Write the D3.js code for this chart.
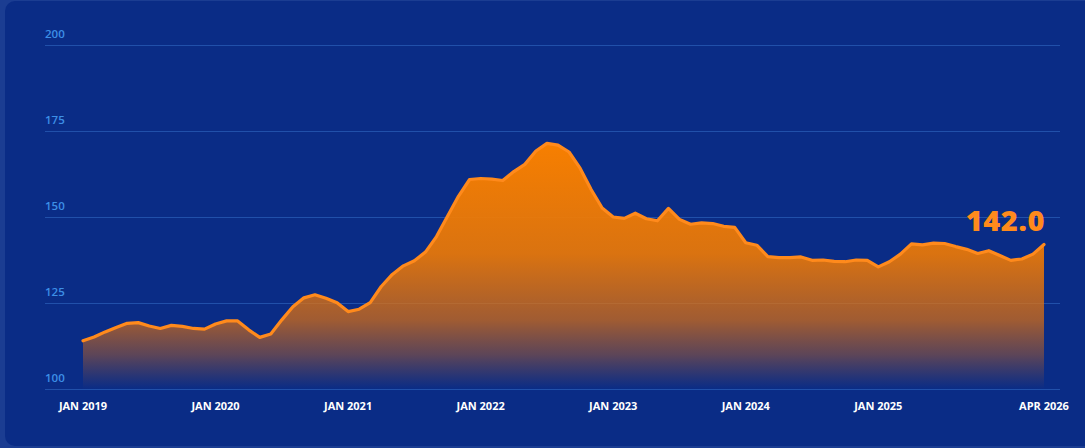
<!DOCTYPE html>
<html>
<head>
<meta charset="utf-8">
<script src="https://cdn.jsdelivr.net/npm/d3@7"></script>
<style>
  html, body { margin: 0; padding: 0; background: #1b3d92; overflow: hidden; }
  svg { display: block; }
</style>
</head>
<body>
<svg id="chart" width="1085" height="448"></svg>
<script>
// ---- Data ----
const startYear = 2019;
const months = d3.range(88).map(i => {
  const y = startYear + Math.floor(i / 12);
  const m = i % 12;
  return `${y}-${String(m + 1).padStart(2, "0")}`;
});
const values = [
  114.0, 115.1, 116.6, 117.9, 119.1, 119.3, 118.3, 117.6, 118.5, 118.2, 117.6, 117.4,
  118.9, 119.8, 119.8, 117.2, 115.0, 116.0, 120.1, 123.9, 126.5, 127.4, 126.4, 125.1,
  122.5, 123.2, 125.1, 129.8, 133.3, 135.8, 137.3, 139.8, 144.3, 150.2, 156.1, 160.9,
  161.2, 161.0, 160.6, 163.2, 165.3, 169.2, 171.4, 170.9, 168.9, 164.2, 158.0, 152.6,
  150.0, 149.6, 151.1, 149.5, 148.9, 152.5, 149.3, 147.9, 148.3, 148.1, 147.3, 147.0,
  142.5, 141.8, 138.5, 138.2, 138.2, 138.4, 137.4, 137.5, 137.1, 137.0, 137.5, 137.4,
  135.5, 137.0, 139.2, 142.2, 141.9, 142.4, 142.3, 141.4, 140.6, 139.4, 140.2, 138.8,
  137.4, 137.8, 139.2, 142.0
];
const xTickKeys = ["2019-01", "2020-01", "2021-01", "2022-01", "2023-01", "2024-01", "2025-01", "2026-04"];
const xTickLabels = ["JAN 2019", "JAN 2020", "JAN 2021", "JAN 2022", "JAN 2023", "JAN 2024", "JAN 2025", "APR 2026"];
const yTicks = [100, 125, 150, 175, 200];
const lastLabel = "142.0";

const data = months.map((k, i) => ({ key: k, value: values[i] }));

// ---- Layout ----
const svg = d3.select("#chart");

svg.append("rect")
  .attr("x", 5).attr("y", 1).attr("width", 1090).attr("height", 445)
  .attr("rx", 10).attr("fill", "#0a2c86");

const x = d3.scalePoint().domain(months).range([83, 1044]);
const y = d3.scaleLinear().domain([100, 200]).range([389, 45]);

const defs = svg.append("defs");
const grad = defs.append("linearGradient")
  .attr("id", "areaGrad")
  .attr("gradientUnits", "userSpaceOnUse")
  .attr("x1", 0).attr("x2", 0)
  .attr("y1", y(d3.max(values))).attr("y2", y(100));
grad.append("stop").attr("offset", 0).attr("stop-color", "#f77f00").attr("stop-opacity", 1);
grad.append("stop").attr("offset", 0.45).attr("stop-color", "#ec7906").attr("stop-opacity", 0.92);
grad.append("stop").attr("offset", 0.72).attr("stop-color", "#e0700f").attr("stop-opacity", 0.7);
grad.append("stop").attr("offset", 0.86).attr("stop-color", "#d06818").attr("stop-opacity", 0.42);
grad.append("stop").attr("offset", 1).attr("stop-color", "#c06020").attr("stop-opacity", 0.0);

// gridlines + y labels
const yAxis = svg.append("g");
yAxis.selectAll("line").data(yTicks).join("line")
  .attr("x1", 45).attr("x2", 1060)
  .attr("y1", d => y(d) + 0.5).attr("y2", d => y(d) + 0.5)
  .attr("stroke", "#2150aa").attr("stroke-width", 1);
yAxis.selectAll("text").data(yTicks).join("text")
  .attr("x", 45).attr("y", d => y(d) - 7.5)
  .attr("fill", "#3d8fe6")
  .attr("font-family", "'Open Sans', sans-serif")
  .attr("font-weight", 600)
  .attr("font-size", 11.5)
  .text(d => d);

// area
const area = d3.area()
  .x(d => x(d.key))
  .y0(y(100))
  .y1(d => y(d.value));
svg.append("path").datum(data)
  .attr("d", area)
  .attr("fill", "url(#areaGrad)");

// line
const line = d3.line().x(d => x(d.key)).y(d => y(d.value));
svg.append("path").datum(data)
  .attr("d", line)
  .attr("fill", "none")
  .attr("stroke", "#ff8a1c")
  .attr("stroke-width", 3.2)
  .attr("stroke-linejoin", "round")
  .attr("stroke-linecap", "round");

// x labels
svg.append("g").selectAll("text").data(xTickKeys).join("text")
  .attr("x", d => x(d))
  .attr("y", 410)
  .attr("text-anchor", "middle")
  .attr("fill", "#ffffff")
  .attr("font-family", "'Open Sans', sans-serif")
  .attr("font-weight", 700)
  .attr("font-size", 11)
  .text((d, i) => xTickLabels[i]);

// last value label
const last = data[data.length - 1];
svg.append("text")
  .attr("x", x(last.key) + 1)
  .attr("y", 231)
  .attr("text-anchor", "end")
  .attr("fill", "#ff8a1c")
  .attr("font-family", "'Open Sans', sans-serif")
  .attr("font-weight", 800)
  .attr("font-size", 29)
  .attr("letter-spacing", 0.6)
  .text(lastLabel);
</script>
</body>
</html>
